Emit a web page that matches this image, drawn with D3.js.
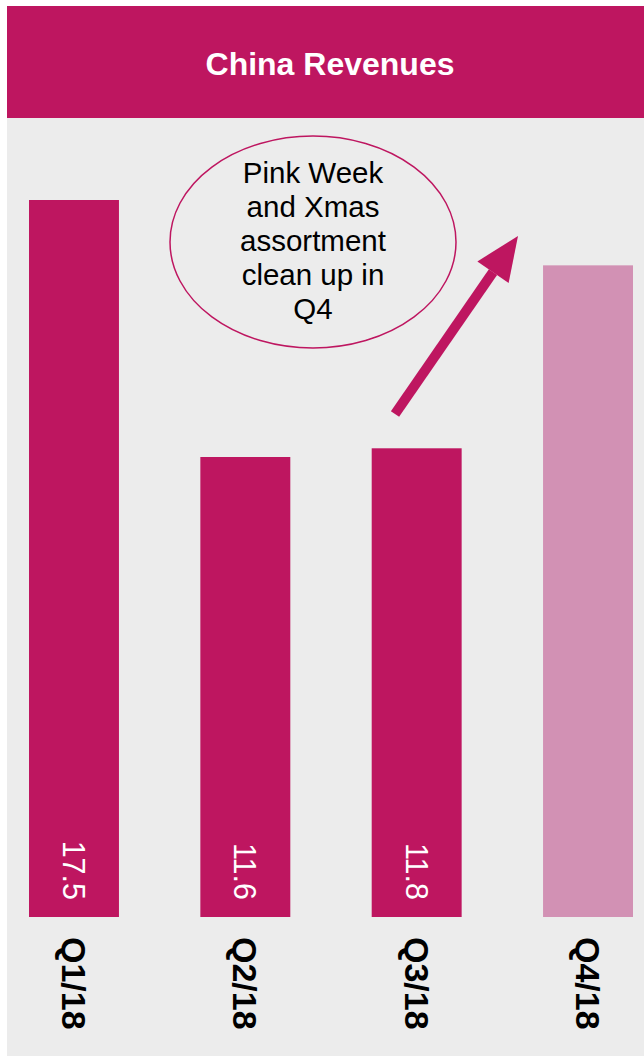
<!DOCTYPE html>
<html>
<head>
<meta charset="utf-8">
<script src="https://cdn.jsdelivr.net/npm/d3@7"></script>
<style>
  body { margin: 0; background: #fff; }
  svg { display: block; font-family: "Liberation Sans", Arial, sans-serif; }
</style>
</head>
<body>
<div id="chart"></div>
<script>
// data
var quarters = ["Q1/18", "Q2/18", "Q3/18", "Q4/18"]
var revenues = [17.5, 11.6, 11.8, 16.0]
var valueLabels = ["17.5", "11.6", "11.8", ""]
var isForecast = [false, false, false, true]
var title = "China Revenues"
var noteLines = ["Pink Week", "and Xmas", "assortment", "clean up in", "Q4"]

var pink = "#BE1660", lightPink = "#D291B4", panel = "#ECECEC"
var svgW = 644, svgH = 1057

var svg = d3.select('#chart').append('svg')
    .attr('width', svgW)
    .attr('height', svgH)

// header + panel
svg.append('rect').attr('x', 7).attr('y', 118).attr('width', svgW - 7).attr('height', 938).attr('fill', panel)
svg.append('rect').attr('x', 7).attr('y', 6).attr('width', svgW - 7).attr('height', 112).attr('fill', pink)
svg.append('text')
    .attr('x', 330).attr('y', 64)
    .attr('text-anchor', 'middle')
    .attr('dominant-baseline', 'central')
    .attr('fill', '#fff')
    .attr('font-weight', 'bold')
    .attr('font-size', 32)
    .text(title)

var xscale = d3.scaleBand()
    .domain(quarters)
    .range([29, 633])
    .paddingInner(0.475)
    .paddingOuter(0)
var yscale = d3.scaleLinear()
    .domain([1.04, 17.5])
    .range([917, 200])

var data = quarters.map((q, i) => ({q: q, v: revenues[i], lab: valueLabels[i], fc: isForecast[i]}))

var chart = svg.append('g')
chart.selectAll('rect.bar').data(data).enter().append('rect')
    .attr('class', 'bar')
    .attr('x', d => xscale(d.q))
    .attr('y', d => yscale(d.v))
    .attr('width', xscale.bandwidth())
    .attr('height', d => yscale.range()[0] - yscale(d.v))
    .attr('fill', d => d.fc ? lightPink : pink)

chart.selectAll('text.val').data(data).enter().append('text')
    .attr('class', 'val')
    .attr('transform', d => `translate(${xscale(d.q) + xscale.bandwidth() / 2},900) rotate(90)`)
    .attr('text-anchor', 'end')
    .attr('dominant-baseline', 'central')
    .attr('fill', '#fff')
    .attr('font-size', 30.5)
    .text(d => d.lab)

chart.selectAll('text.cat').data(data).enter().append('text')
    .attr('class', 'cat')
    .attr('transform', d => `translate(${xscale(d.q) + xscale.bandwidth() / 2},937) rotate(90)`)
    .attr('text-anchor', 'start')
    .attr('dominant-baseline', 'central')
    .attr('fill', '#000')
    .attr('font-weight', 'bold')
    .attr('font-size', 34)
    .text(d => d.q)

// annotation bubble
svg.append('ellipse')
    .attr('cx', 313).attr('cy', 242).attr('rx', 143).attr('ry', 106)
    .attr('fill', 'none').attr('stroke', pink).attr('stroke-width', 1.5)
svg.append('text')
    .attr('text-anchor', 'middle')
    .attr('font-size', 29.5)
    .attr('fill', '#000')
    .selectAll('tspan').data(noteLines).enter().append('tspan')
    .attr('x', 313)
    .attr('y', (d, i) => 183 + i * 34)
    .text(d => d)

// arrow
var x0 = 395, y0 = 414, x1 = 518, y1 = 236
var ang = Math.atan2(y1 - y0, x1 - x0)
var headL = 44, headW = 19
var bx = x1 - headL * Math.cos(ang), by = y1 - headL * Math.sin(ang)
svg.append('line')
    .attr('x1', x0).attr('y1', y0).attr('x2', bx).attr('y2', by)
    .attr('stroke', pink).attr('stroke-width', 10)
svg.append('path')
    .attr('d', `M${x1},${y1}L${bx + headW * Math.sin(ang)},${by - headW * Math.cos(ang)}L${bx - headW * Math.sin(ang)},${by + headW * Math.cos(ang)}Z`)
    .attr('fill', pink)
</script>
</body>
</html>
